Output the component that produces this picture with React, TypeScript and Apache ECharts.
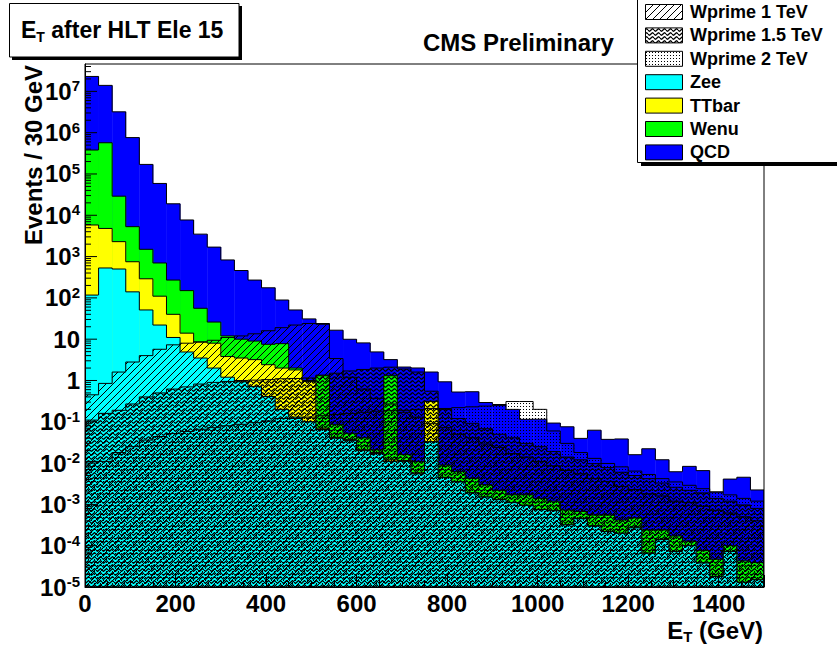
import React, { useEffect, useRef } from "react";
import * as echarts from "echarts";

// Histogram binning (GeV)
const BIN_WIDTH = 30;
const X_MAX = 1500;
const Y_MIN = 1e-5;
const Y_MAX = 4.6e7;

// Background processes, events per 30 GeV bin (stacked bottom to top: Zee, TTbar, Wenu, QCD)
const zee = [
  117, 530, 500, 140, 51, 22, 11, 4.9, 3.5, 2.0, 1.2, 0.93, 0.71, 0.41, 0.2, 0.13, 0.1, 0.065, 0.04, 0.035,
  0.02, 0.017, 0.011, 0.011, 0.0055, 0.033, 0.0045, 0.0035, 0.0019, 0.0015, 0.0013, 0.0011, 0.00095, 0.00075,
  0.0007, 0.00032, 0.00045, 0.0003, 0.00022, 0.0002, 0.00027, 0.000066, 0.00014, 0.000072, 0.0001, 0.000038,
  0.000018, 0.000072, 0.000013, 0.000015,
];
const ttbar = [
  5700, 4270, 1800, 610, 239, 88, 29, 9.1, 5.0, 6.0, 2.6, 2.57, 2.49, 2.0, 1.8, 1.67, 0.85, 0.005, 0.002, 0.002,
  0.001, 0.001, 0.001, 0.0005, 0.0003, 0.277, 0, 0, 0, 0, 0, 0, 0, 0, 0, 0, 0, 0, 0, 0, 0, 0, 0, 0, 0, 0, 0, 0, 0, 0,
];
const wenu = [
  3.74e5, 5.65e5, 2.67e4, 4550, 1210, 590, 230, 136, 47.5, 18, 8.2, 6.5, 5.8, 5.1, 5.8, 0.2, 0.05, 1.28, 0.045,
  0.016, 0.02, 0.003, 1.29, 0.0045, 0.0052, 0.004, 0.0045, 0.0027, 0.0024, 0.0015, 0.0009, 0.0006, 0.00075,
  0.00065, 0.0005, 0.00041, 0.00022, 0.00025, 0.00033, 0.00022, 0.0002, 0.000174, 0.0001, 0.0001, 0.00003,
  0.000038, 0.000029, 0.000028, 0.00003, 0.000024,
];
const qcd = [
  2.26e7, 1.34e7, 3.17e6, 7.55e5, 1.69e5, 5.83e4, 1.87e4, 7550, 3440, 1670, 818, 450, 261, 168, 81, 49, 30, 22.6,
  16.4, 9.9, 8.1, 4.9, 1.9, 2.1, 2.0, 1.29, 0.92, 0.52, 0.53, 0.29, 0.26, 0.198, 0.113, 0.114, 0.092, 0.075, 0.039,
  0.062, 0.037, 0.038, 0.0155, 0.022, 0.0118, 0.006, 0.0082, 0.0065, 0.00195, 0.004, 0.0045, 0.0022,
];

// Signal samples, drawn unstacked on top of the background
const wprime1 = [
  0.45, 0.85, 1.6, 2.8, 4.0, 5.7, 7.3, 8.0, 8.6, 9.4, 11, 12, 13.5, 16, 19, 22, 24, 23, 3.4, 1.2, 0.62, 0.37, 0.27,
  0.17, 0.13, 0.09, 0.072, 0.05, 0.041, 0.029, 0.024, 0.017, 0.014, 0.011, 0.0086, 0.0066, 0.0055, 0.0042, 0.0036,
  0.0027, 0.0023, 0.0018, 0.0016, 0.0012, 0.0011, 0.0009, 0.00072, 0.00062, 0.0005, 0.0004,
];
const wprime15 = [
  0.11, 0.16, 0.19, 0.27, 0.4, 0.5, 0.62, 0.7, 0.82, 0.9, 0.95, 1.0, 1.02, 1.05, 1.1, 1.12, 1.15, 1.3, 1.5, 1.7,
  1.85, 2.0, 2.1, 1.9, 1.6, 0.55, 0.2, 0.12, 0.092, 0.068, 0.05, 0.041, 0.03, 0.025, 0.019, 0.014, 0.012, 0.0097,
  0.0078, 0.006, 0.005, 0.0042, 0.0033, 0.0026, 0.0022, 0.0019, 0.0014, 0.0012, 0.00097, 0.0008,
];
const wprime2 = [
  0.011, 0.011, 0.018, 0.025, 0.036, 0.044, 0.052, 0.058, 0.066, 0.072, 0.08, 0.087, 0.095, 0.105, 0.12, 0.12,
  0.13, 0.14, 0.15, 0.16, 0.17, 0.18, 0.185, 0.19, 0.2, 0.21, 0.21, 0.22, 0.23, 0.24, 0.25, 0.31, 0.31, 0.2, 0.06,
  0.03, 0.018, 0.013, 0.0098, 0.0081, 0.0064, 0.0053, 0.0042, 0.0035, 0.0029, 0.0024, 0.002, 0.0017, 0.0014, 0.0012,
];

// Axis labels
const xTicks = [0, 200, 400, 600, 800, 1000, 1200, 1400];
const yDecades = [-5, -4, -3, -2, -1, 0, 1, 2, 3, 4, 5, 6, 7];

const FONT = '"Liberation Sans", Arial, Helvetica, sans-serif';
const BLUE = "#0000ff";
const GREEN = "#00ff00";
const YELLOW = "#ffff00";
const CYAN = "#00ffff";

type Tile = { image: string; repeat: string; imageWidth: number; imageHeight: number };

function makeTile(w: number, h: number, draw: (ctx: CanvasRenderingContext2D) => void): Tile {
  const c = document.createElement("canvas");
  c.width = w;
  c.height = h;
  const ctx = c.getContext("2d") as CanvasRenderingContext2D;
  draw(ctx);
  return { image: c.toDataURL(), repeat: "repeat", imageWidth: w, imageHeight: h };
}

function makePatterns() {
  const diag = makeTile(7, 7, (ctx) => {
    ctx.strokeStyle = "#000";
    ctx.lineWidth = 1;
    ctx.beginPath();
    ctx.moveTo(-1, 8);
    ctx.lineTo(8, -1);
    ctx.moveTo(-2, 2);
    ctx.lineTo(2, -2);
    ctx.moveTo(5, 9);
    ctx.lineTo(9, 5);
    ctx.stroke();
  });
  const wavy = makeTile(6, 4, (ctx) => {
    ctx.strokeStyle = "#000";
    ctx.lineWidth = 1.3;
    ctx.beginPath();
    for (let i = 0; i <= 12; i++) {
      const x = (i / 12) * 6;
      const y = 2 + 1.2 * Math.sin((2 * Math.PI * x) / 6);
      if (i === 0) ctx.moveTo(x, y);
      else ctx.lineTo(x, y);
    }
    ctx.stroke();
  });
  const dots = makeTile(3, 3, (ctx) => {
    ctx.fillStyle = "#000";
    ctx.fillRect(1, 1, 1, 1);
  });
  return { diag, wavy, dots };
}

function cumulate(layers: number[][]): number[][] {
  const out: number[][] = [];
  let run = layers[0].map(() => 0);
  for (const layer of layers) {
    run = run.map((r, i) => r + layer[i]);
    out.push(run.slice());
  }
  return out;
}

function histSeries(name: string, tops: number[], fill: any, z: number) {
  const floor = Y_MIN * 1e-3;
  return {
    type: "custom",
    name,
    coordinateSystem: "cartesian2d",
    clip: true,
    silent: true,
    z,
    data: tops.map((v, i) => [
      i * BIN_WIDTH,
      (i + 1) * BIN_WIDTH,
      Math.max(v, floor),
      i > 0 ? Math.max(tops[i - 1], floor) : floor,
    ]),
    encode: { x: [0, 1], y: [2] },
    renderItem: (params: any, api: any) => {
      const x0 = api.value(0);
      const x1 = api.value(1);
      const vTop = Math.max(api.value(2), Y_MIN);
      const vPrev = Math.max(api.value(3), Y_MIN);
      const pTop = api.coord([x0, vTop]);
      const px1 = api.coord([x1, vTop])[0];
      const pyBase = api.coord([x0, Y_MIN])[1];
      const pyPrev = api.coord([x0, vPrev])[1];
      const px0 = pTop[0];
      const pyTop = pTop[1];
      const children: any[] = [];
      if (pyBase - pyTop > 0.05) {
        children.push({
          type: "rect",
          shape: { x: px0, y: pyTop, width: px1 - px0 + 0.4, height: pyBase - pyTop },
          style: { fill, stroke: null },
        });
      }
      const pts: number[][] = [
        [px0, pyPrev],
        [px0, pyTop],
        [px1, pyTop],
      ];
      if (params.dataIndex === tops.length - 1) pts.push([px1, pyBase]);
      children.push({
        type: "polyline",
        shape: { points: pts },
        style: { stroke: "#000", lineWidth: 1, fill: null },
      });
      return { type: "group", children };
    },
  };
}

const richY = {
  b: { fontSize: 24, fontWeight: "bold", fontFamily: FONT, fill: "#000", lineHeight: 26 },
  s: { fontSize: 15, fontWeight: "bold", fontFamily: FONT, fill: "#000", verticalAlign: "top", lineHeight: 15 },
};

export default function App() {
  const ref = useRef<HTMLDivElement>(null);

  useEffect(() => {
    document.body.style.margin = "0";
    if (!ref.current) return;
    const chart = echarts.init(ref.current, undefined, { renderer: "svg" });
    const pat = makePatterns();

    const [zeeTop, ttbarTop, wenuTop, qcdTop] = cumulate([zee, ttbar, wenu, qcd]);

    // Minor log ticks (2..9 x 10^n) along the left axis
    const minorVals: number[] = [];
    for (const n of yDecades) {
      for (let m = 2; m <= 9; m++) {
        const v = m * Math.pow(10, n);
        if (v < Y_MAX) minorVals.push(v);
      }
    }

    const boldText = (size: number) => ({
      fontSize: size,
      fontWeight: "bold",
      fontFamily: FONT,
      fill: "#000",
    });

    const legendRows = [
      { label: "Wprime 1 TeV", fill: pat.diag },
      { label: "Wprime 1.5 TeV", fill: pat.wavy },
      { label: "Wprime 2 TeV", fill: pat.dots },
      { label: "Zee", fill: CYAN },
      { label: "TTbar", fill: YELLOW },
      { label: "Wenu", fill: GREEN },
      { label: "QCD", fill: BLUE },
    ];

    const legendEls: any[] = [
      {
        type: "rect",
        shape: { x: 641, y: 0, width: 200, height: 166 },
        style: { fill: "#000" },
        z: 100,
      },
      {
        type: "rect",
        shape: { x: 637.5, y: -5, width: 205, height: 167.5 },
        style: { fill: "#fff", stroke: "#000", lineWidth: 1 },
        z: 101,
      },
    ];
    legendRows.forEach((row, i) => {
      const cy = 12 + i * 23.4;
      if (typeof row.fill !== "string") {
        legendEls.push({
          type: "rect",
          shape: { x: 645.5, y: cy - 7.5, width: 37, height: 15 },
          style: { fill: "#fff" },
          z: 102,
        });
      }
      legendEls.push({
        type: "rect",
        shape: { x: 645.5, y: cy - 7.5, width: 37, height: 15 },
        style: { fill: row.fill, stroke: "#000", lineWidth: 1 },
        z: 103,
      });
      legendEls.push({
        type: "text",
        x: 690,
        y: cy,
        style: { text: row.label, ...boldText(18), align: "left", verticalAlign: "middle" },
        z: 103,
      });
    });

    const option: any = {
      animation: false,
      backgroundColor: "#fff",
      grid: {
        left: 85,
        right: 73,
        top: 64,
        bottom: 62,
        show: true,
        borderColor: "#000",
        borderWidth: 1,
        backgroundColor: "transparent",
        z: 9,
      },
      xAxis: {
        type: "value",
        min: 0,
        max: X_MAX,
        interval: 200,
        z: 10,
        axisLine: { show: true, onZero: false, lineStyle: { color: "#000", width: 1 } },
        axisTick: { show: true, inside: true, length: 12, lineStyle: { color: "#000" } },
        minorTick: { show: true, splitNumber: 4, length: 6, lineStyle: { color: "#000" } },
        splitLine: { show: false },
        axisLabel: {
          show: true,
          margin: 4,
          showMaxLabel: false,
          color: "#000",
          fontSize: 24,
          fontWeight: "bold",
          fontFamily: FONT,
          formatter: (v: number) => (xTicks.indexOf(v) >= 0 ? String(v) : ""),
        },
      },
      yAxis: {
        type: "log",
        logBase: 10,
        min: Y_MIN,
        max: Y_MAX,
        z: 10,
        axisLine: { show: true, onZero: false, lineStyle: { color: "#000", width: 1 } },
        axisTick: { show: false },
        splitLine: { show: false },
        axisLabel: { show: false },
      },
      series: [
        histSeries("QCD", qcdTop, BLUE, 2),
        histSeries("Wenu", wenuTop, GREEN, 2),
        histSeries("TTbar", ttbarTop, YELLOW, 2),
        histSeries("Zee", zeeTop, CYAN, 2),
        histSeries("Wprime 2 TeV", wprime2, pat.dots, 3),
        histSeries("Wprime 1.5 TeV", wprime15, pat.wavy, 3),
        histSeries("Wprime 1 TeV", wprime1, pat.diag, 3),
        {
          type: "custom",
          name: "minor ticks",
          coordinateSystem: "cartesian2d",
          clip: true,
          silent: true,
          z: 11,
          data: minorVals.map((v) => [0, v]),
          encode: { x: [0], y: [1] },
          renderItem: (_p: any, api: any) => {
            const p = api.coord([0, api.value(1)]);
            return {
              type: "line",
              shape: { x1: p[0], y1: p[1], x2: p[0] + 6, y2: p[1] },
              style: { stroke: "#000", lineWidth: 1 },
            };
          },
        },
        {
          type: "custom",
          name: "decades",
          coordinateSystem: "cartesian2d",
          clip: false,
          silent: true,
          z: 11,
          data: yDecades.map((n) => [0, Math.pow(10, n), n]),
          encode: { x: [0], y: [1] },
          renderItem: (_p: any, api: any) => {
            const n = api.value(2);
            const p = api.coord([0, Math.pow(10, n)]);
            const text = n === 0 ? "{b|1}" : n === 1 ? "{b|10}" : `{b|10}{s|${n}}`;
            return {
              type: "group",
              children: [
                {
                  type: "line",
                  shape: { x1: p[0], y1: p[1], x2: p[0] + 12, y2: p[1] },
                  style: { stroke: "#000", lineWidth: 1 },
                },
                {
                  type: "text",
                  x: p[0] - 5,
                  y: p[1],
                  style: { text, rich: richY, align: "right", verticalAlign: "middle" },
                },
              ],
            };
          },
        },
      ],
      graphic: [
        // title box with shadow
        { type: "rect", shape: { x: 12, y: 6, width: 230, height: 54 }, style: { fill: "#000" }, z: 100 },
        {
          type: "rect",
          shape: { x: 9.5, y: 3.5, width: 229.5, height: 53.5 },
          style: { fill: "#fff", stroke: "#000", lineWidth: 1 },
          z: 101,
        },
        {
          type: "text",
          x: 21,
          y: 30,
          z: 102,
          style: {
            text: "{b|E}{sub|T}{b| after HLT Ele 15}",
            verticalAlign: "middle",
            align: "left",
            rich: {
              b: { fontSize: 23, fontWeight: "bold", fontFamily: FONT, fill: "#000", lineHeight: 27 },
              sub: {
                fontSize: 14,
                fontWeight: "bold",
                fontFamily: FONT,
                fill: "#000",
                verticalAlign: "bottom",
                lineHeight: 14,
              },
            },
          },
        },
        {
          type: "text",
          x: 423,
          y: 42,
          z: 102,
          style: { text: "CMS Preliminary", ...boldText(24), align: "left", verticalAlign: "middle" },
        },
        {
          type: "text",
          x: 33,
          y: 155,
          rotation: Math.PI / 2,
          z: 102,
          style: { text: "Events / 30 GeV", ...boldText(24), align: "center", verticalAlign: "middle" },
        },
        {
          type: "text",
          x: 763,
          y: 630,
          z: 102,
          style: {
            text: "{b|E}{sub|T}{b| (GeV)}",
            align: "right",
            verticalAlign: "middle",
            rich: {
              b: { fontSize: 24, fontWeight: "bold", fontFamily: FONT, fill: "#000", lineHeight: 28 },
              sub: {
                fontSize: 15,
                fontWeight: "bold",
                fontFamily: FONT,
                fill: "#000",
                verticalAlign: "bottom",
                lineHeight: 15,
              },
            },
          },
        },
        ...legendEls,
      ],
    };

    chart.setOption(option);
    return () => chart.dispose();
  }, []);

  return <div ref={ref} style={{ width: 837, height: 649 }} />;
}
